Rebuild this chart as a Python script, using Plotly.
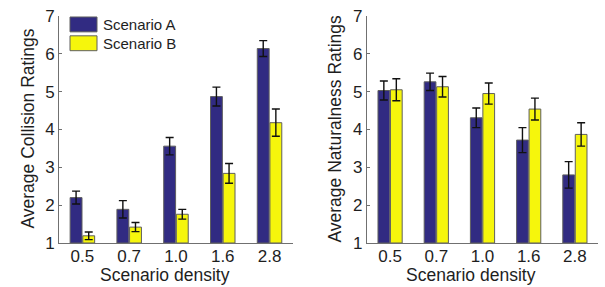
import plotly.graph_objects as go

densities = ["0.5", "0.7", "1.0", "1.6", "2.8"]
collision_a = [2.20, 1.89, 3.56, 4.87, 6.14]
collision_a_err = [0.17, 0.23, 0.23, 0.25, 0.21]
collision_b = [1.19, 1.42, 1.76, 2.84, 4.18]
collision_b_err = [0.10, 0.12, 0.13, 0.26, 0.36]
natural_a = [5.03, 5.26, 4.31, 3.72, 2.80]
natural_a_err = [0.25, 0.23, 0.26, 0.33, 0.35]
natural_b = [5.05, 5.13, 4.95, 4.54, 3.87]
natural_b_err = [0.29, 0.27, 0.28, 0.29, 0.31]
series_names = ["Scenario A", "Scenario B"]
y_ticks = [1, 2, 3, 4, 5, 6, 7]

COL_A = "#312b82"
COL_B = "#f6f60c"
OUTLINE = "#5f5f5f"
FONT = "Liberation Sans, Arial, sans-serif"

fig = go.Figure()

def add_bars(vals, errs, color, name, xa, ya):
    fig.add_trace(go.Bar(
        x=densities, y=[v - 1 for v in vals], base=1, name=name,
        marker=dict(color=color, line=dict(color=OUTLINE, width=1)),
        error_y=dict(type="data", array=errs, color="#111111", thickness=1.4, width=4),
        xaxis=xa, yaxis=ya, showlegend=False, hoverinfo="skip",
    ))

add_bars(collision_a, collision_a_err, COL_A, series_names[0], "x", "y")
add_bars(collision_b, collision_b_err, COL_B, series_names[1], "x", "y")
add_bars(natural_a, natural_a_err, COL_A, series_names[0], "x2", "y2")
add_bars(natural_b, natural_b_err, COL_B, series_names[1], "x2", "y2")

axis_common = dict(showline=True, linecolor="#707070", linewidth=1, ticks="inside",
                   ticklen=3, tickcolor="#707070", showgrid=False, zeroline=False,
                   tickfont=dict(family=FONT, size=17, color="#1e1e1e"))

fig.update_layout(
    width=605, height=287,
    margin=dict(l=59, r=7, t=14, b=44),
    paper_bgcolor="white", plot_bgcolor="white",
    barmode="group", bargap=0.46, bargroupgap=0.06,
    xaxis=dict(domain=[0, 0.434], anchor="y", range=[-0.5, 4.5], ticklabelstandoff=-2, **axis_common),
    yaxis=dict(domain=[0, 1], anchor="x", range=[1, 7], tickvals=y_ticks, **axis_common),
    xaxis2=dict(domain=[0.5714, 1], anchor="y2", range=[-0.5, 4.5], ticklabelstandoff=-2, **axis_common),
    yaxis2=dict(domain=[0, 1], anchor="x2", range=[1, 7], tickvals=y_ticks, **axis_common),
    showlegend=False,
)

title_font = dict(family=FONT, size=17.5, color="#1e1e1e")
ann = [
    dict(text="Scenario density", x=0.1967, y=-0.142, xref="paper", yref="paper",
         xanchor="center", yanchor="middle", showarrow=False, font=title_font),
    dict(text="Scenario density", x=0.764, y=-0.142, xref="paper", yref="paper",
         xanchor="center", yanchor="middle", showarrow=False, font=title_font),
    dict(text="Average Collision Ratings", x=-0.0575, y=0.504, xref="paper", yref="paper",
         xanchor="center", yanchor="middle", textangle=-90, showarrow=False, font=title_font),
    dict(text="Average Naturalness Ratings", x=0.512, y=0.504, xref="paper", yref="paper",
         xanchor="center", yanchor="middle", textangle=-90, showarrow=False, font=title_font),
]

# legend (manual, top-left of first panel)
legend_font = dict(family=FONT, size=15, color="#1e1e1e")
W, H = 539.0, 229.0
def px_x(p):
    return (p - 59) / W
def px_y(p):
    return (243 - p) / H

shapes = []
for i, (name, col) in enumerate(zip(series_names, [COL_A, COL_B])):
    top = 15 + i * 19
    shapes.append(dict(type="rect", xref="paper", yref="paper",
                       x0=px_x(70), x1=px_x(97), y0=px_y(top + 15), y1=px_y(top),
                       fillcolor=col, line=dict(color=OUTLINE, width=1)))
    ann.append(dict(text=name, x=px_x(101), y=px_y(top + 7.5), xref="paper", yref="paper",
                    xanchor="left", yanchor="middle", showarrow=False, font=legend_font))

fig.update_layout(annotations=ann, shapes=shapes)
fig.write_html("out.html", config={"displayModeBar": False},
               post_script="document.body.style.margin='0';document.body.style.overflow='hidden';")
